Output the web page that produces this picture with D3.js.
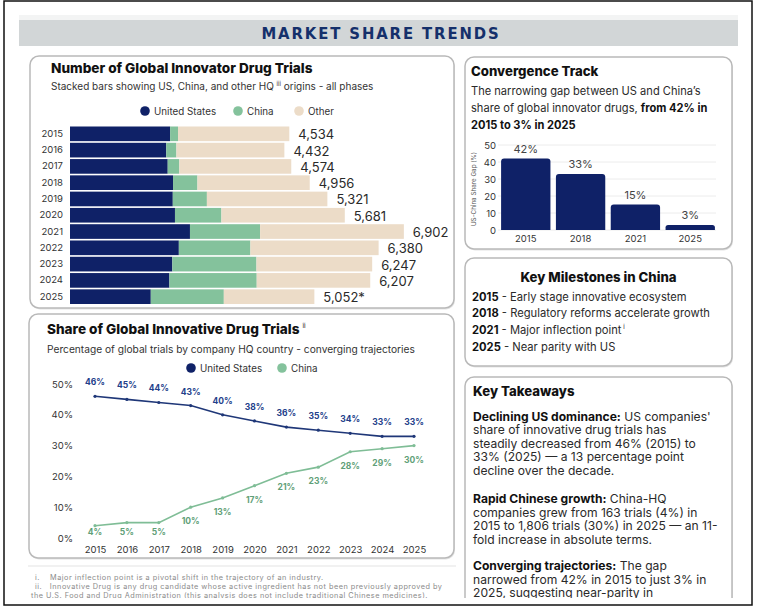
<!DOCTYPE html>
<html>
<head>
<meta charset="utf-8">
<script src="https://cdn.jsdelivr.net/npm/d3@7"></script>
<style>
  body { margin: 0; background: #fff; }
  svg { display: block; font-family: Inter, "Open Sans", sans-serif; }
</style>
</head>
<body>
<div id="chart"></div>
<script>
// ---- data ----
var years = ["2015","2016","2017","2018","2019","2020","2021","2022","2023","2024","2025"];
var usTrials    = [2070, 1990, 2020, 2130, 2125, 2170, 2480, 2250, 2115, 2055, 1670];
var chinaTrials = [163, 210, 240, 505, 705, 960, 1450, 1480, 1740, 1805, 1510];
var otherTrials = [2301, 2232, 2314, 2321, 2491, 2551, 2972, 2650, 2392, 2347, 1872];
var totalLabels = ["4,534","4,432","4,574","4,956","5,321","5,681","6,902","6,380","6,247","6,207","5,052*"];

var usShare    = [46, 45, 44, 43, 40, 38, 36, 35, 34, 33, 33];
var chinaShare = [4, 5, 5, 10, 13, 17, 21, 23, 28, 29, 30];

var gapYears = ["2015","2018","2021","2025"];
var gapValues = [42, 33, 15, 3];

var NAVY = "#0f2167", GREEN = "#84c29c", BEIGE = "#ecdcc8";

const W = 757, H = 612;
const svg = d3.select("#chart").append("svg")
    .attr("width", W).attr("height", H);

// the screenshot content stops a little above the black frame
svg.append("defs").append("clipPath").attr("id", "frame")
  .append("rect").attr("x", 4).attr("y", 1).attr("width", 748).attr("height", 597);

const page = svg.append("g").attr("clip-path", "url(#frame)");

// header band
page.append("rect").attr("x", 19).attr("y", 15).attr("width", 719).attr("height", 6).attr("fill", "#f3f4f4");
page.append("rect").attr("x", 19).attr("y", 20).attr("width", 719).attr("height", 26).attr("fill", "#d2d6d7");
page.append("text").attr("x", 381).attr("y", 38.5).attr("text-anchor", "middle")
    .attr("font-family", "'DejaVu Sans Condensed', 'DejaVu Sans', sans-serif")
    .attr("font-weight", 700).attr("font-size", 16.5).attr("letter-spacing", 1.9)
    .attr("fill", "#15306b").text("MARKET SHARE TRENDS");

function panel(x, y, w, h) {
  page.append("rect").attr("x", x + 1).attr("y", y + 1.5).attr("width", w).attr("height", h)
      .attr("rx", 9).attr("fill", "#e4e4e4");
  page.append("rect").attr("x", x).attr("y", y).attr("width", w).attr("height", h)
      .attr("rx", 9).attr("fill", "#fff").attr("stroke", "#b9b9b9").attr("stroke-width", 1.5);
}

panel(30, 56, 424, 252);
panel(29, 314, 425, 244);
panel(465, 57, 267, 192);
panel(465, 258, 267, 108);
panel(465, 377, 267, 240);

// ============ stacked bar chart ============
page.append("text").attr("x", 51).attr("y", 73).attr("font-size", 13.6).attr("font-weight", 800)
    .attr("fill", "#111").text("Number of Global Innovator Drug Trials");
var sub = page.append("text").attr("x", 51).attr("y", 90).attr("font-size", 10).attr("fill", "#333");
sub.append("tspan").text("Stacked bars showing US, China, and other HQ ");
sub.append("tspan").attr("font-size", 6).attr("dy", -4).text("iii");
sub.append("tspan").attr("dy", 4).text("  origins - all phases");

var legend1 = [["United States", NAVY, 145], ["China", GREEN, 238], ["Other", BEIGE, 299]];
legend1.forEach(function(l) {
  page.append("circle").attr("cx", l[2]).attr("cy", 111).attr("r", 4.8).attr("fill", l[1]);
  page.append("text").attr("x", l[2] + 9).attr("y", 114.5).attr("font-size", 9.8).attr("fill", "#333").text(l[0]);
});

var rows = years.map(function(y, i) {
  return {year: y, us: usTrials[i], china: chinaTrials[i], other: otherTrials[i], label: totalLabels[i]};
});
var stack = d3.stack().keys(["us", "china", "other"])(rows);
var yBar = d3.scaleBand().domain(years).range([126.5, 304]).paddingInner(0.1);
var xBar = d3.scaleLinear().domain([0, 7000]).range([70, 408.6]);
var colorBar = d3.scaleOrdinal().domain(["us", "china", "other"]).range([NAVY, GREEN, BEIGE]);

page.append("g").selectAll("g").data(stack).join("g")
    .attr("fill", d => colorBar(d.key))
  .selectAll("rect").data(d => d).join("rect")
    .attr("x", d => xBar(d[0]))
    .attr("y", d => yBar(d.data.year))
    .attr("width", d => xBar(d[1]) - xBar(d[0]))
    .attr("height", yBar.bandwidth());

var yAxisBar = page.append("g").attr("transform", "translate(66,0)")
    .call(d3.axisLeft(yBar).tickSize(0).tickPadding(3));
yAxisBar.select(".domain").remove();
yAxisBar.selectAll("text").attr("font-size", 9.5).attr("fill", "#333").attr("font-family", "Inter, sans-serif");

page.append("g").selectAll("text").data(stack[2]).join("text")
    .attr("x", d => xBar(d[1]) + 9)
    .attr("y", d => yBar(d.data.year) + yBar.bandwidth() / 2 + 5.5)
    .attr("font-size", 13).attr("fill", "#2a2a2a")
    .text(d => d.data.label);

// ============ line chart ============
var t2 = page.append("text").attr("x", 47).attr("y", 334).attr("font-size", 13.6).attr("font-weight", 800).attr("fill", "#111");
t2.append("tspan").text("Share of Global Innovative Drug Trials ");
t2.append("tspan").attr("font-size", 6.5).attr("font-weight", 400).attr("dy", -6).text("ii");
page.append("text").attr("x", 47).attr("y", 353).attr("font-size", 10.2).attr("fill", "#333")
    .text("Percentage of global trials by company HQ country - converging trajectories");

[["United States", NAVY, 191], ["China", GREEN, 282]].forEach(function(l) {
  page.append("circle").attr("cx", l[2]).attr("cy", 368).attr("r", 4.8).attr("fill", l[1]);
  page.append("text").attr("x", l[2] + 9).attr("y", 371.5).attr("font-size", 9.8).attr("fill", "#333").text(l[0]);
});

var xLine = d3.scalePoint().domain(years).range([95, 414]);
var yLine = d3.scaleLinear().domain([0, 50]).range([538, 384]);

var yAx = page.append("g").attr("transform", "translate(73,0)")
    .call(d3.axisLeft(yLine).ticks(5).tickSize(0).tickPadding(0).tickFormat(d => d + "%"));
yAx.select(".domain").remove();
yAx.selectAll("text").attr("font-size", 9.5).attr("fill", "#333").attr("font-family", "Inter, sans-serif");

var xAx = page.append("g").attr("transform", "translate(0,543)")
    .call(d3.axisBottom(xLine).tickSize(0).tickPadding(3));
xAx.select(".domain").remove();
xAx.selectAll("text").attr("font-size", 9.5).attr("fill", "#333").attr("font-family", "Inter, sans-serif");

var line = d3.line().x((d, i) => xLine(years[i])).y(d => yLine(d));

var series = [
  {vals: usShare, color: "#1f3778", text: "#23408a", dy: -11},
  {vals: chinaShare, color: "#7fbd96", text: "#5f9f78", dy: 17}
];
series.forEach(function(s) {
  page.append("path").datum(s.vals).attr("d", line)
      .attr("fill", "none").attr("stroke", s.color).attr("stroke-width", 1.6);
  page.append("g").selectAll("circle").data(s.vals).join("circle")
      .attr("cx", (d, i) => xLine(years[i])).attr("cy", d => yLine(d))
      .attr("r", 1.6).attr("fill", s.color);
  page.append("g").selectAll("text").data(s.vals).join("text")
      .attr("x", (d, i) => xLine(years[i]))
      .attr("y", d => Math.min(yLine(d) + s.dy, 535))
      .attr("text-anchor", "middle").attr("font-size", 8.5).attr("font-weight", 700)
      .attr("fill", s.text).text(d => d + "%");
});

// footnotes
page.append("line").attr("x1", 28).attr("x2", 456).attr("y1", 566).attr("y2", 566)
    .attr("stroke", "#e3e3e3").attr("stroke-width", 1);
var notes = [
  [35, 579.5, "i.    Major inflection point is a pivotal shift in the trajectory of an industry."],
  [35, 589, "ii.   Innovative Drug is any drug candidate whose active ingredient has not been previously approved by"],
  [31, 598, "the U.S. Food and Drug Administration (this analysis does not include traditional Chinese medicines)."]
];
notes.forEach(function(n) {
  page.append("text").attr("x", n[0]).attr("y", n[1]).attr("font-size", 7.3)
      .attr("letter-spacing", 0.5).attr("fill", "#8a8a8a").attr("xml:space", "preserve").text(n[2]);
});

// ============ convergence track ============
page.append("text").attr("x", 471).attr("y", 76).attr("font-size", 13.2).attr("font-weight", 800)
    .attr("fill", "#111").text("Convergence Track");

function richLine(x, y, parts, size) {
  var t = page.append("text").attr("x", x).attr("y", y).attr("font-size", size).attr("fill", "#222")
      .attr("xml:space", "preserve");
  parts.forEach(function(p) {
    t.append("tspan").attr("font-weight", p[1] ? 700 : 400).attr("fill", p[1] ? "#111" : "#2a2a2a").text(p[0]);
  });
  return t;
}
richLine(471, 95, [["The narrowing gap between US and China\u2019s", false]], 11.1);
richLine(471, 112, [["share of global innovator drugs, ", false], ["from 42% in", true]], 11.1);
richLine(471, 129, [["2015 to 3% in 2025", true]], 11.1);

var xGap = d3.scaleBand().domain(gapYears).range([500, 716]).paddingInner(0.1).paddingOuter(0.02);
var yGap = d3.scaleLinear().domain([0, 50]).range([230, 145]);

page.append("g").selectAll("line").data(yGap.ticks(5)).join("line")
    .attr("x1", 498).attr("x2", 716)
    .attr("y1", d => yGap(d)).attr("y2", d => yGap(d))
    .attr("stroke", "#ececec").attr("stroke-width", 1);

var yG = page.append("g").attr("transform", "translate(496,0)")
    .call(d3.axisLeft(yGap).ticks(5).tickSize(0).tickPadding(0));
yG.select(".domain").remove();
yG.selectAll("text").attr("font-size", 9.5).attr("fill", "#333").attr("font-family", "Inter, sans-serif");

page.append("text").attr("transform", "translate(476,189) rotate(-90)")
    .attr("text-anchor", "middle").attr("font-size", 6.3).attr("fill", "#555")
    .text("US-China Share Gap (%)");

page.append("g").selectAll("path").data(gapValues).join("path")
    .attr("fill", NAVY)
    .attr("d", function(d, i) {
      var x0 = xGap(gapYears[i]), w = xGap.bandwidth(), y0 = yGap(d), y1 = yGap(0), r = Math.min(3, (y1 - y0) / 2);
      return "M" + x0 + "," + y1 + "V" + (y0 + r) + "Q" + x0 + "," + y0 + " " + (x0 + r) + "," + y0 +
             "H" + (x0 + w - r) + "Q" + (x0 + w) + "," + y0 + " " + (x0 + w) + "," + (y0 + r) + "V" + y1 + "Z";
    });

page.append("g").selectAll("text").data(gapValues).join("text")
    .attr("x", (d, i) => xGap(gapYears[i]) + xGap.bandwidth() / 2)
    .attr("y", d => yGap(d) - 5.5)
    .attr("text-anchor", "middle").attr("font-size", 11).attr("fill", "#444")
    .text(d => d + "%");

var xG = page.append("g").attr("transform", "translate(0,232)")
    .call(d3.axisBottom(xGap).tickSize(0).tickPadding(3));
xG.select(".domain").remove();
xG.selectAll("text").attr("font-size", 9.5).attr("fill", "#333").attr("font-family", "Inter, sans-serif");

// ============ milestones ============
page.append("text").attr("x", 598.5).attr("y", 282).attr("text-anchor", "middle")
    .attr("font-size", 13.2).attr("font-weight", 800).attr("fill", "#111").text("Key Milestones in China");
var milestones = [
  ["2015", " - Early stage innovative ecosystem"],
  ["2018", " - Regulatory reforms accelerate growth"],
  ["2021", " - Major inflection point"],
  ["2025", " - Near parity with US"]
];
milestones.forEach(function(m, i) {
  var t = richLine(472, 300.5 + i * 16.7, [[m[0], true], [m[1], false]], 11.2);
  if (m[0] === "2021") t.append("tspan").attr("font-size", 6).attr("dy", -5).text(" i");
});

// ============ takeaways ============
page.append("text").attr("x", 473).attr("y", 396).attr("font-size", 13.2).attr("font-weight", 800)
    .attr("fill", "#111").text("Key Takeaways");
var takeaways = [
  [[["Declining US dominance:", true], [" US companies'", false]],
   [["share of innovative drug trials has", false]],
   [["steadily decreased from 46% (2015) to", false]],
   [["33% (2025) \u2014 a 13 percentage point", false]],
   [["decline over the decade.", false]]],
  [[["Rapid Chinese growth:", true], [" China-HQ", false]],
   [["companies grew from 163 trials (4%) in", false]],
   [["2015 to 1,806 trials (30%) in 2025 \u2014 an 11-", false]],
   [["fold increase in absolute terms.", false]]],
  [[["Converging trajectories:", true], [" The gap", false]],
   [["narrowed from 42% in 2015 to just 3% in", false]],
   [["2025, suggesting near-parity in", false]]]
];
var starts = [420.5, 503, 570];
takeaways.forEach(function(p, pi) {
  p.forEach(function(ln, li) {
    richLine(473, starts[pi] + li * 13.5, ln, 12.1);
  });
});

// outer frame
svg.append("rect").attr("x", 4).attr("y", 1).attr("width", 748).attr("height", 604)
    .attr("fill", "none").attr("stroke", "#111").attr("stroke-width", 1.5);
</script>
</body>
</html>
